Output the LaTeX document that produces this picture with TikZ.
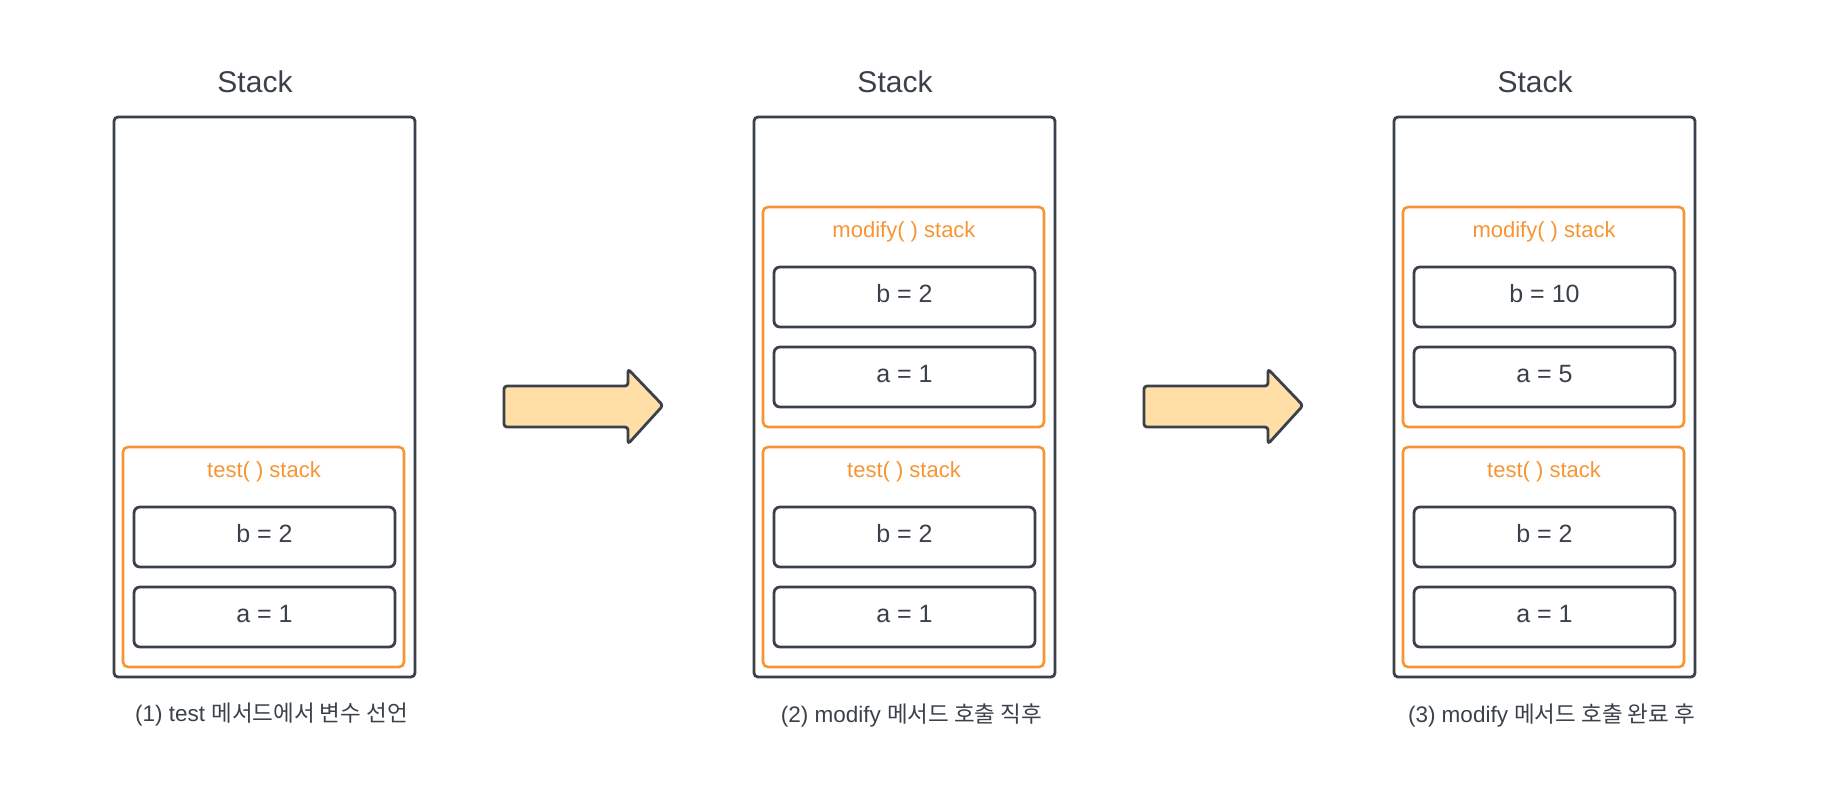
\documentclass[tikz,border=0pt]{standalone}
\usepackage{fontspec}
\setmainfont{Liberation Sans}
\newfontfamily\kr{Noto Sans CJK KR}
\usetikzlibrary{positioning}
\definecolor{ink}{RGB}{58,65,74}
\definecolor{frameorange}{RGB}{247,148,51}
\definecolor{arrowfill}{RGB}{255,223,166}
\newcommand{\pxfont}[1]{\fontsize{#1}{#1}\selectfont}

\tikzset{
	stackbox/.style={draw=ink, line width=2.8pt, rounded corners=4pt,
		minimum width=301pt, minimum height=560pt, inner sep=0pt},
	framebox/.style={draw=frameorange, line width=2.6pt, rounded corners=5pt,
		minimum width=281pt, minimum height=220pt, inner sep=0pt},
	varbox/.style={draw=ink, line width=2.8pt, rounded corners=6pt,
		minimum width=261pt, minimum height=60pt, inner sep=0pt,
		text height=18pt, text depth=7pt, text=ink, font=\pxfont{25}},
	stacktitle/.style={text=ink, font=\pxfont{30}, inner sep=0pt},
	frametitle/.style={text=frameorange, font=\pxfont{22}, inner sep=0pt},
	caption/.style={text=ink, font=\pxfont{22.5}, inner sep=0pt},
	blockarrow/.style={draw=ink, fill=arrowfill, line width=2.8pt,
		rounded corners=3pt, line join=round}
}

\begin{document}
\begin{tikzpicture}[x=1pt,y=-1pt]
	\useasboundingbox (0,0) rectangle (1823,805);
	%three stacks with the test() frame at the bottom
	\foreach \i/\dx in {1/0,2/640,3/1280}{
		\node[stackbox] (s\i) at (264.5+\dx,397) {};
		\node[stacktitle] (st\i) at (255+\dx,82) {Stack};
		\node[framebox] (t\i) at (263.5+\dx,557) {};
		\node[frametitle] (tt\i) at (264+\dx,471.5) {test( ) stack};
		\node[varbox] (tb\i) at (264.5+\dx,537) {b = 2};
		\node[varbox] (ta\i) at (264.5+\dx,617) {a = 1};
	}
	%modify() frames
	\foreach \i/\dx/\b/\a in {2/640/2/1,3/1280/10/5}{
		\node[framebox] (m\i) at (263.5+\dx,317) {};
		\node[frametitle] (mt\i) at (264+\dx,231.5) {modify( ) stack};
		\node[varbox] (mb\i) at (264.5+\dx,297) {b = \b};
		\node[varbox] (ma\i) at (264.5+\dx,377) {a = \a};
	}
	%captions
	\node[caption] (c1) at (271.5,715) {(1) test {\kr 메서드에서 변수 선언}};
	\node[caption] (c2) at (911.5,715) {(2) modify {\kr 메서드 호출 직후}};
	\node[caption] (c3) at (1551.5,715) {(3) modify {\kr 메서드 호출 완료 후}};
	%block arrows
	\foreach \dx in {0,640}{
		\draw[blockarrow] (504+\dx,386) -- (628+\dx,386) -- (628+\dx,369)
			-- (663+\dx,405.5) -- (628+\dx,444) -- (628+\dx,427)
			-- (504+\dx,427) -- cycle;
	}
\end{tikzpicture}
\end{document}
